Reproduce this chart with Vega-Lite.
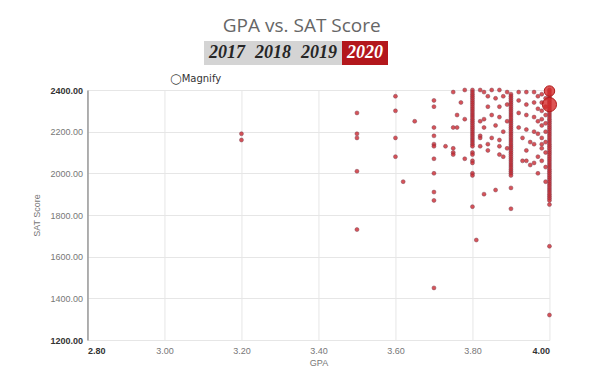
{
  "$schema": "https://vega.github.io/schema/vega-lite/v6.json",
  "padding": {"left": 32, "top": 17, "right": 5, "bottom": 5},
  "background": "white",
  "title": {"text": "GPA vs. SAT Score", "fontSize": 19, "font": "Open Sans", "fontWeight": "normal", "color": "#666666", "offset": 5, "anchor": "middle", "dx": 6},
  "config": {"view": {"stroke": null}, "concat": {"spacing": 8}},
  "center": true,
  "datasets": {
    "years": [
      {"year": "2017", "sel": "no"},
      {"year": "2018", "sel": "no"},
      {"year": "2019", "sel": "no"},
      {"year": "2020", "sel": "yes"}
    ],
    "students": [
      {"g": 3.2, "s": 2190}, {"g": 3.2, "s": 2160},
      {"g": 3.5, "s": 2290}, {"g": 3.5, "s": 2190}, {"g": 3.5, "s": 2170}, {"g": 3.5, "s": 2010}, {"g": 3.5, "s": 1730},
      {"g": 3.6, "s": 2370}, {"g": 3.6, "s": 2300}, {"g": 3.6, "s": 2170}, {"g": 3.6, "s": 2080},
      {"g": 3.62, "s": 1960}, {"g": 3.65, "s": 2250},
      {"g": 3.7, "s": 2350}, {"g": 3.7, "s": 2320}, {"g": 3.7, "s": 2220}, {"g": 3.7, "s": 2180}, {"g": 3.7, "s": 2140}, {"g": 3.7, "s": 2130}, {"g": 3.7, "s": 2070}, {"g": 3.7, "s": 2000}, {"g": 3.7, "s": 1910}, {"g": 3.7, "s": 1870}, {"g": 3.7, "s": 1450},
      {"g": 3.73, "s": 2130}, {"g": 3.75, "s": 2390}, {"g": 3.75, "s": 2220}, {"g": 3.75, "s": 2120}, {"g": 3.75, "s": 2100}, {"g": 3.75, "s": 2090},
      {"g": 3.76, "s": 2280}, {"g": 3.76, "s": 2220}, {"g": 3.77, "s": 2340}, {"g": 3.78, "s": 2400}, {"g": 3.78, "s": 2260}, {"g": 3.78, "s": 2070},
      {"g": 3.8, "s": 2400}, {"g": 3.8, "s": 2390}, {"g": 3.8, "s": 2380}, {"g": 3.8, "s": 2370}, {"g": 3.8, "s": 2360}, {"g": 3.8, "s": 2350}, {"g": 3.8, "s": 2340}, {"g": 3.8, "s": 2330}, {"g": 3.8, "s": 2320}, {"g": 3.8, "s": 2310}, {"g": 3.8, "s": 2300}, {"g": 3.8, "s": 2290}, {"g": 3.8, "s": 2280}, {"g": 3.8, "s": 2270}, {"g": 3.8, "s": 2260}, {"g": 3.8, "s": 2250}, {"g": 3.8, "s": 2240}, {"g": 3.8, "s": 2230}, {"g": 3.8, "s": 2220}, {"g": 3.8, "s": 2210}, {"g": 3.8, "s": 2200}, {"g": 3.8, "s": 2190}, {"g": 3.8, "s": 2180}, {"g": 3.8, "s": 2170}, {"g": 3.8, "s": 2160}, {"g": 3.8, "s": 2150}, {"g": 3.8, "s": 2140}, {"g": 3.8, "s": 2130}, {"g": 3.8, "s": 2100}, {"g": 3.8, "s": 2090}, {"g": 3.8, "s": 2060}, {"g": 3.8, "s": 2050}, {"g": 3.8, "s": 2000}, {"g": 3.8, "s": 1990}, {"g": 3.8, "s": 1840},
      {"g": 3.81, "s": 1680},
      {"g": 3.82, "s": 2250}, {"g": 3.82, "s": 2180}, {"g": 3.82, "s": 2400}, {"g": 3.82, "s": 2130},
      {"g": 3.83, "s": 2390}, {"g": 3.85, "s": 2400}, {"g": 3.87, "s": 2400}, {"g": 3.89, "s": 2390},
      {"g": 3.84, "s": 2370}, {"g": 3.86, "s": 2360}, {"g": 3.88, "s": 2370},
      {"g": 3.84, "s": 2320}, {"g": 3.87, "s": 2320}, {"g": 3.89, "s": 2330},
      {"g": 3.83, "s": 2260}, {"g": 3.85, "s": 2280}, {"g": 3.87, "s": 2270}, {"g": 3.89, "s": 2250},
      {"g": 3.83, "s": 2220}, {"g": 3.86, "s": 2230}, {"g": 3.88, "s": 2200},
      {"g": 3.82, "s": 2170}, {"g": 3.85, "s": 2170}, {"g": 3.87, "s": 2160},
      {"g": 3.84, "s": 2140}, {"g": 3.87, "s": 2130}, {"g": 3.89, "s": 2120},
      {"g": 3.84, "s": 2110}, {"g": 3.87, "s": 2090}, {"g": 3.88, "s": 2080}, {"g": 3.83, "s": 1900}, {"g": 3.86, "s": 1920},
      {"g": 3.9, "s": 2380}, {"g": 3.9, "s": 2370}, {"g": 3.9, "s": 2360}, {"g": 3.9, "s": 2350}, {"g": 3.9, "s": 2340}, {"g": 3.9, "s": 2330}, {"g": 3.9, "s": 2320}, {"g": 3.9, "s": 2310}, {"g": 3.9, "s": 2300}, {"g": 3.9, "s": 2290}, {"g": 3.9, "s": 2280}, {"g": 3.9, "s": 2270}, {"g": 3.9, "s": 2260}, {"g": 3.9, "s": 2250}, {"g": 3.9, "s": 2240}, {"g": 3.9, "s": 2230}, {"g": 3.9, "s": 2220}, {"g": 3.9, "s": 2210}, {"g": 3.9, "s": 2200}, {"g": 3.9, "s": 2190}, {"g": 3.9, "s": 2180}, {"g": 3.9, "s": 2170}, {"g": 3.9, "s": 2160}, {"g": 3.9, "s": 2150}, {"g": 3.9, "s": 2140}, {"g": 3.9, "s": 2130}, {"g": 3.9, "s": 2120}, {"g": 3.9, "s": 2110}, {"g": 3.9, "s": 2100}, {"g": 3.9, "s": 2090}, {"g": 3.9, "s": 2080}, {"g": 3.9, "s": 2070}, {"g": 3.9, "s": 2060}, {"g": 3.9, "s": 2050}, {"g": 3.9, "s": 2040}, {"g": 3.9, "s": 2030}, {"g": 3.9, "s": 2020}, {"g": 3.9, "s": 2010}, {"g": 3.9, "s": 2000}, {"g": 3.9, "s": 1990}, {"g": 3.9, "s": 1930}, {"g": 3.9, "s": 1830},
      {"g": 3.92, "s": 2390}, {"g": 3.94, "s": 2390}, {"g": 3.96, "s": 2390}, {"g": 3.97, "s": 2370},
      {"g": 3.92, "s": 2350}, {"g": 3.94, "s": 2330}, {"g": 3.96, "s": 2340}, {"g": 3.97, "s": 2310},
      {"g": 3.92, "s": 2290}, {"g": 3.94, "s": 2280}, {"g": 3.96, "s": 2270}, {"g": 3.97, "s": 2250},
      {"g": 3.92, "s": 2220}, {"g": 3.94, "s": 2210}, {"g": 3.96, "s": 2200}, {"g": 3.97, "s": 2190},
      {"g": 3.93, "s": 2170}, {"g": 3.95, "s": 2150}, {"g": 3.96, "s": 2140}, {"g": 3.98, "s": 2120}, {"g": 3.94, "s": 2110},
      {"g": 3.93, "s": 2060}, {"g": 3.94, "s": 2060}, {"g": 3.95, "s": 2040}, {"g": 3.96, "s": 2050}, {"g": 3.97, "s": 2080}, {"g": 3.98, "s": 2060}, {"g": 3.99, "s": 2030}, {"g": 3.97, "s": 2000}, {"g": 3.99, "s": 1960},
      {"g": 3.98, "s": 2380}, {"g": 3.99, "s": 2360}, {"g": 3.98, "s": 2340}, {"g": 3.99, "s": 2320}, {"g": 3.98, "s": 2300}, {"g": 3.99, "s": 2280}, {"g": 3.98, "s": 2260}, {"g": 3.99, "s": 2240}, {"g": 3.98, "s": 2230}, {"g": 3.99, "s": 2200}, {"g": 3.98, "s": 2170}, {"g": 3.99, "s": 2150}, {"g": 3.98, "s": 2140}, {"g": 3.99, "s": 2100},
      {"g": 4.0, "s": 2400}, {"g": 4.0, "s": 2390}, {"g": 4.0, "s": 2380}, {"g": 4.0, "s": 2370}, {"g": 4.0, "s": 2360}, {"g": 4.0, "s": 2350}, {"g": 4.0, "s": 2340}, {"g": 4.0, "s": 2330}, {"g": 4.0, "s": 2320}, {"g": 4.0, "s": 2310}, {"g": 4.0, "s": 2300}, {"g": 4.0, "s": 2290}, {"g": 4.0, "s": 2280}, {"g": 4.0, "s": 2270}, {"g": 4.0, "s": 2260}, {"g": 4.0, "s": 2250}, {"g": 4.0, "s": 2240}, {"g": 4.0, "s": 2230}, {"g": 4.0, "s": 2220}, {"g": 4.0, "s": 2210}, {"g": 4.0, "s": 2200}, {"g": 4.0, "s": 2190}, {"g": 4.0, "s": 2180}, {"g": 4.0, "s": 2170}, {"g": 4.0, "s": 2160}, {"g": 4.0, "s": 2150}, {"g": 4.0, "s": 2140}, {"g": 4.0, "s": 2130}, {"g": 4.0, "s": 2120}, {"g": 4.0, "s": 2110}, {"g": 4.0, "s": 2100}, {"g": 4.0, "s": 2090}, {"g": 4.0, "s": 2080}, {"g": 4.0, "s": 2070}, {"g": 4.0, "s": 2060}, {"g": 4.0, "s": 2050}, {"g": 4.0, "s": 2040}, {"g": 4.0, "s": 2030}, {"g": 4.0, "s": 2020}, {"g": 4.0, "s": 2010}, {"g": 4.0, "s": 2000}, {"g": 4.0, "s": 1990}, {"g": 4.0, "s": 1980}, {"g": 4.0, "s": 1970}, {"g": 4.0, "s": 1960}, {"g": 4.0, "s": 1950}, {"g": 4.0, "s": 1940}, {"g": 4.0, "s": 1930}, {"g": 4.0, "s": 1920}, {"g": 4.0, "s": 1910}, {"g": 4.0, "s": 1900}, {"g": 4.0, "s": 1890}, {"g": 4.0, "s": 1880}, {"g": 4.0, "s": 1870}, {"g": 4.0, "s": 1850}, {"g": 4.0, "s": 1650}, {"g": 4.0, "s": 1320}
    ],
    "highlight": [
      {"g": 4.0, "s": 2395, "n": 2},
      {"g": 4.0, "s": 2330, "n": 3}
    ]
  },
  "vconcat": [
    {
      "width": 238,
      "height": 24,
      "data": {"name": "years"},
      "encoding": {
        "x": {"field": "year", "type": "nominal", "axis": null, "scale": {"paddingInner": 0, "paddingOuter": 0.587, "align": 0}}
      },
      "layer": [
        {
          "mark": {"type": "rect"},
          "encoding": {
            "color": {"field": "sel", "type": "nominal", "legend": null, "scale": {"domain": ["no", "yes"], "range": ["#d4d4d4", "#b3171c"]}}
          }
        },
        {
          "mark": {"type": "text", "font": "Liberation Serif", "fontStyle": "italic", "fontWeight": "bold", "fontSize": 18, "baseline": "middle"},
          "encoding": {
            "text": {"field": "year"},
            "color": {"condition": {"test": "datum.sel === 'yes'", "value": "#ffffff"}, "value": "#262626"}
          }
        }
      ]
    },
    {
      "width": 462,
      "height": 250,
      "title": {"text": "◯Magnify", "anchor": "start", "frame": "group", "dx": 83, "fontSize": 10, "font": "DejaVu Sans", "fontWeight": "normal", "color": "#333333", "offset": 0},
      "layer": [
        {
          "data": {"name": "students"},
          "mark": {"type": "point", "filled": true, "size": 16, "fill": "#cc2229", "fillOpacity": 0.78, "stroke": "#7d4455", "strokeWidth": 0.8, "strokeOpacity": 0.6},
          "encoding": {
            "x": {"field": "g", "type": "quantitative", "title": "GPA",
              "scale": {"domain": [2.8, 4.0], "nice": false, "zero": false},
              "axis": {"values": [2.8, 3.0, 3.2, 3.4, 3.6, 3.8, 4.0], "format": ".2f", "grid": true, "gridColor": "#e6e6e6", "ticks": false, "domain": true, "domainColor": "#e6e6e6", "labelFontSize": 9, "labelFont": "Liberation Sans", "labelColor": {"condition": {"test": "datum.value === 2.8 || datum.value === 4", "value": "#333333"}, "value": "#777777"}, "labelFontWeight": {"condition": {"test": "datum.value === 2.8 || datum.value === 4", "value": "bold"}, "value": "normal"}, "labelPadding": 6, "titleFontSize": 9, "titleFont": "Liberation Sans", "titleFontWeight": "normal", "titleColor": "#777777", "titlePadding": 3}
            },
            "y": {"field": "s", "type": "quantitative", "title": "SAT Score",
              "scale": {"domain": [1200, 2400], "nice": false, "zero": false},
              "axis": {"values": [1200, 1400, 1600, 1800, 2000, 2200, 2400], "format": ".2f", "grid": true, "gridColor": "#e6e6e6", "ticks": false, "domain": true, "domainColor": "#999999", "domainWidth": 1.5, "labelFontSize": 9, "labelFont": "Liberation Sans", "labelColor": {"condition": {"test": "datum.value === 1200 || datum.value === 2400", "value": "#333333"}, "value": "#777777"}, "labelFontWeight": {"condition": {"test": "datum.value === 1200 || datum.value === 2400", "value": "bold"}, "value": "normal"}, "labelPadding": 5, "titleFontSize": 9, "titleFont": "Liberation Sans", "titleFontWeight": "normal", "titleColor": "#777777", "titlePadding": 8}
            }
          }
        },
        {
          "data": {"name": "highlight"},
          "mark": {"type": "point", "filled": true, "fill": "#d42a2a", "fillOpacity": 0.8, "stroke": "#b01c1c", "strokeWidth": 1},
          "encoding": {
            "x": {"field": "g", "type": "quantitative"},
            "y": {"field": "s", "type": "quantitative"},
            "size": {"field": "n", "type": "quantitative", "legend": null, "scale": {"domain": [2, 3], "range": [110, 200]}}
          }
        }
      ]
    }
  ]
}
